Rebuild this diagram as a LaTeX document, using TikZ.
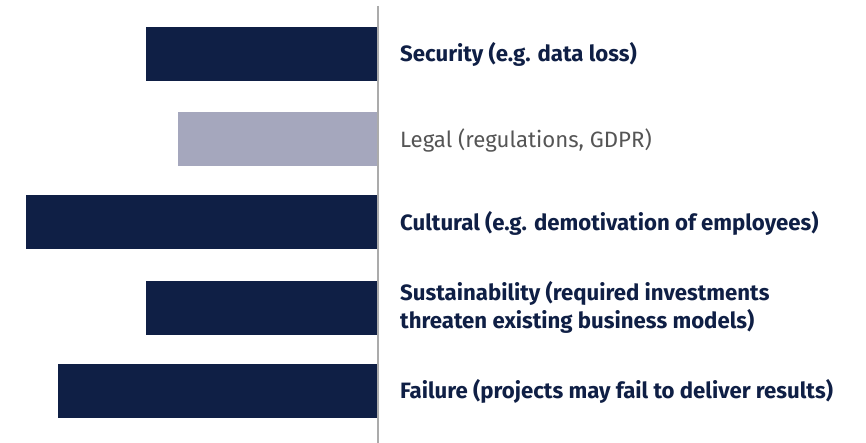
\documentclass[tikz,border=0pt]{standalone}
\usepackage{fontspec}
\setmainfont{Fira Sans}
\definecolor{navy}{HTML}{0F1F45}
\definecolor{lilac}{HTML}{A5A7BD}
\definecolor{axisgray}{HTML}{ABABAB}
\definecolor{textgray}{HTML}{555555}
\tikzset{
  risk/.style={anchor=base west, inner sep=0, text=navy,
    font=\fontsize{22.2}{28}\selectfont\bfseries},
  minor risk/.style={risk, text=textgray, font=\fontsize{22.2}{28}\selectfont}
}
\begin{document}
\begin{tikzpicture}[x=1pt, y=-1pt]
    \useasboundingbox (0,0) rectangle (866,443);

    % Bars
    \fill[navy] (146,27) rectangle (378,81);
    \fill[lilac] (178,112) rectangle (378,166);
    \fill[navy] (26,195) rectangle (378,249);
    \fill[navy] (146,281) rectangle (378,335);
    \fill[navy] (58,364) rectangle (378,418);

    % Axis
    \draw[axisgray, line width=1.5pt] (378,6) -- (378,443);

    % Labels
    \node[risk] (security) at (400,62) {Security (e.g. data loss)};
    \node[minor risk] (legal) at (400,148) {Legal (regulations, GDPR)};
    \node[risk] (cultural) at (400,231) {Cultural (e.g. demotivation of employees)};
    \node[risk, align=left] (sustain) at (400,328)
      {Sustainability (required investments\\threaten existing business models)};
    \node[risk] (failure) at (400,398) {Failure (projects may fail to deliver results)};
  \end{tikzpicture}
\end{document}
